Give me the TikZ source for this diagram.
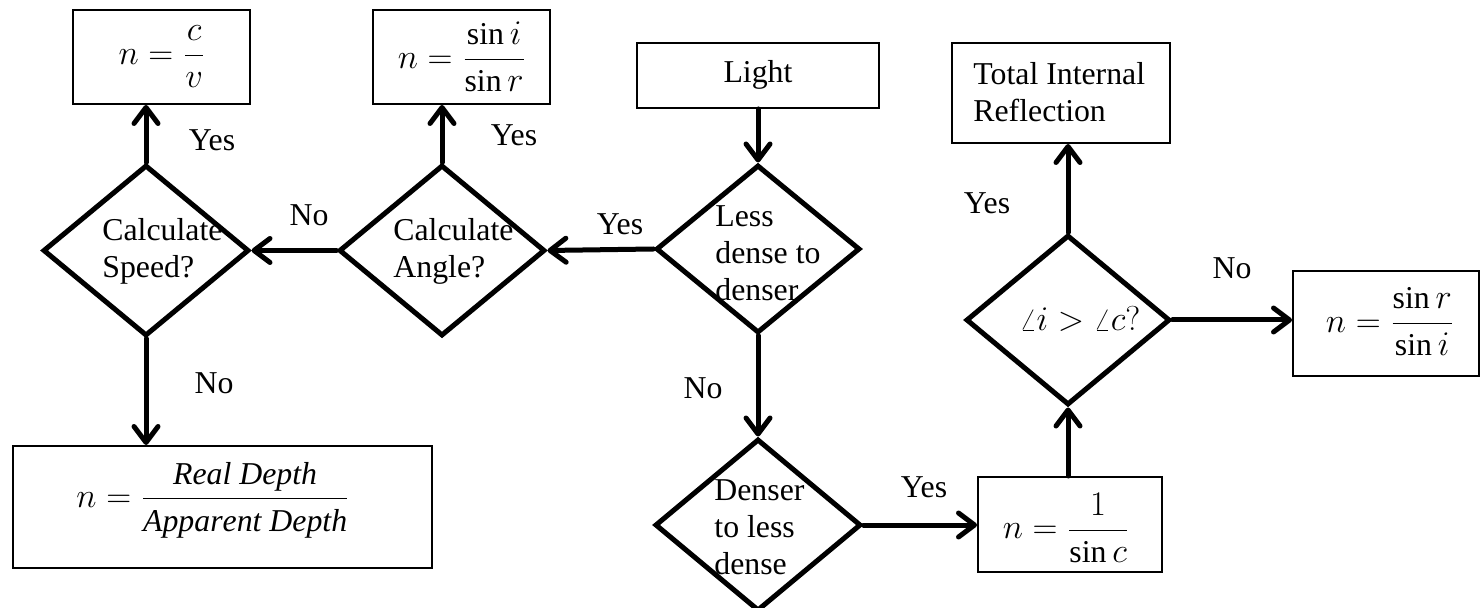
\documentclass[tikz,border=0pt]{standalone}
\usepackage{fontspec}
\setmainfont{Liberation Serif}
\usetikzlibrary{shapes.geometric,arrows.meta}
\begin{document}
\begin{tikzpicture}[x=0.5pt,y=-0.5pt,
  font=\fontsize{15.9pt}{18.5pt}\selectfont,
  box/.style={draw, line width=1pt, rectangle, inner sep=0pt},
  decision/.style={draw, line width=2.5pt, diamond, inner sep=0pt},
  txt/.style={inner sep=0pt, align=left},
  flow/.style={line width=2.5pt, line cap=round, -{Straight Barb[length=8pt,width=12pt,line cap=round,line join=round]}},
  lbl/.style={inner sep=0pt}]
\useasboundingbox (0,0) rectangle (1481,608);
\clip (0,0) rectangle (1481,608);

% result boxes
\node[box, minimum width=88.5pt, minimum height=47pt] (cv) at (161.5,57) {};
\node[box, minimum width=88.5pt, minimum height=47pt] (sinir) at (461.5,57) {};
\node[box, minimum width=121pt, minimum height=32.5pt] (light) at (758,75.5) {};
\node[box, minimum width=109pt, minimum height=50pt] (tir) at (1061,93) {};
\node[box, minimum width=93pt, minimum height=52.5pt] (sinri) at (1386,323.5) {};
\node[box, minimum width=209.5pt, minimum height=61pt] (depth) at (222.5,507) {};
\node[box, minimum width=92pt, minimum height=47.5pt] (invsin) at (1070,524.5) {};

% decisions
\node[decision, minimum width=103pt, minimum height=85.5pt] (speed) at (146,250.5) {};
\node[decision, minimum width=103pt, minimum height=85.5pt] (angle) at (442,250.5) {};
\node[decision, minimum width=102pt, minimum height=84pt] (less) at (758,249) {};
\node[decision, minimum width=103pt, minimum height=86pt] (denser) at (758,525) {};
\node[decision, minimum width=102pt, minimum height=85pt] (crit) at (1068,320) {};

% box contents
\node[lbl] (cvf) at (162,57) {$\displaystyle n=\frac{c}{v}$};
\node[lbl] (sinirf) at (462,57) {$\displaystyle n=\frac{\sin i}{\sin r}$};
\node[lbl] (lightt) at (758,75) {Light};
\node[txt, anchor=west] (tirt) at (973,92) {Total Internal\\Reflection};
\node[lbl] (sinrif) at (1390,322) {$\displaystyle n=\frac{\sin r}{\sin i}$};
\node[lbl] (depthf) at (213,500) {$\displaystyle n=\frac{\mathit{Real\ Depth}}{\mathit{Apparent\ Depth}}$};
\node[lbl] (invsinf) at (1066,528) {$\displaystyle n=\frac{1}{\sin c}$};

% decision contents
\node[txt, anchor=west] (speedt) at (102,251) {Calculate\\Speed?};
\node[txt, anchor=west] (anglet) at (393,251) {Calculate\\Angle?};
\node[txt, anchor=west] (lesst) at (715,253) {Less\\dense to\\denser};
\node[txt, anchor=west] (densert) at (714,527) {Denser\\to less\\dense};
\node[lbl] (critt) at (1080,319) {$\angle i>\angle c?$};

% connectors
\draw[flow] (speed.north) -- (speed.north |- cv.south);
\draw[flow] (angle.north) -- (angle.north |- sinir.south);
\draw[flow] (angle.west) -- (speed.east);
\draw[flow] (less.west) -- (angle.east);
\draw[flow] (less.north |- light.south) -- (less.north);
\draw[flow] (speed.south) -- (speed.south |- depth.north);
\draw[flow] (less.south) -- (denser.north);
\draw[flow] (denser.east) -- (invsin.west |- denser.east);
\draw[flow] (crit.south |- invsin.north) -- (crit.south);
\draw[flow] (crit.north) -- (crit.north |- tir.south);
\draw[flow] (crit.east) -- (sinri.west |- crit.east);

% branch labels
\node[lbl] (y1) at (212,140) {Yes};
\node[lbl] (y2) at (514,135) {Yes};
\node[lbl] (n1) at (309,215) {No};
\node[lbl] (y3) at (620,224) {Yes};
\node[lbl] (n2) at (703,388) {No};
\node[lbl] (y4) at (924,487) {Yes};
\node[lbl] (y5) at (987,203) {Yes};
\node[lbl] (n3) at (1232,268) {No};
\node[lbl] (n4) at (214,383) {No};
\end{tikzpicture}
\end{document}
